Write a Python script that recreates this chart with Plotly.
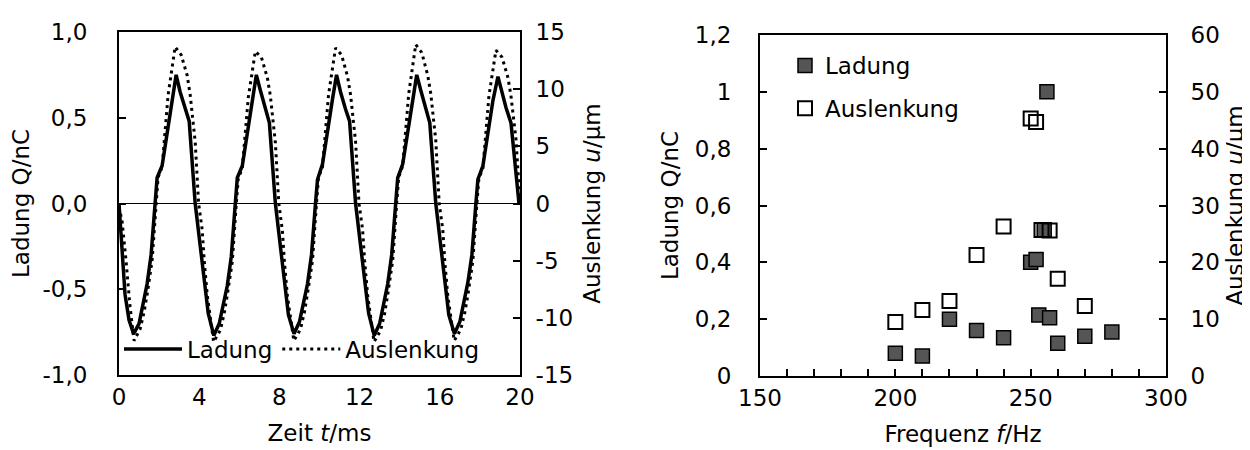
import plotly.graph_objects as go

# ---------------- left chart: time signals ----------------
zeit_ladung = [0.0, 0.15, 0.3, 0.5, 0.73, 1.0, 1.4, 1.6, 1.8, 1.9, 2.15, 2.4, 2.65, 2.85, 3.05, 3.3, 3.5, 3.8, 4.15, 4.45,
               4.73, 5.0, 5.4, 5.6, 5.8, 5.9, 6.15, 6.4, 6.65, 6.85, 7.05, 7.3, 7.5, 7.8, 8.15, 8.45,
               8.73, 9.0, 9.4, 9.6, 9.8, 9.9, 10.15, 10.4, 10.65, 10.85, 11.05, 11.3, 11.5, 11.8, 12.15, 12.45,
               12.73, 13.0, 13.4, 13.6, 13.8, 13.9, 14.15, 14.4, 14.65, 14.85, 15.05, 15.3, 15.5, 15.8, 16.15, 16.45,
               16.73, 17.0, 17.4, 17.6, 17.8, 17.9, 18.15, 18.4, 18.65, 18.9, 19.1, 19.3, 19.55, 19.8, 19.95]
ladung_q = [0.0, -0.28, -0.53, -0.68, -0.76, -0.70, -0.47, -0.30, 0.0, 0.15, 0.22, 0.42, 0.60, 0.75, 0.65, 0.56, 0.48, 0.0, -0.35, -0.64,
            -0.77, -0.70, -0.48, -0.31, 0.0, 0.15, 0.22, 0.42, 0.60, 0.75, 0.66, 0.56, 0.47, 0.0, -0.36, -0.65,
            -0.76, -0.69, -0.47, -0.30, 0.0, 0.14, 0.23, 0.43, 0.61, 0.75, 0.65, 0.55, 0.48, 0.0, -0.35, -0.64,
            -0.77, -0.70, -0.47, -0.30, 0.0, 0.15, 0.23, 0.42, 0.60, 0.75, 0.66, 0.56, 0.47, 0.0, -0.35, -0.65,
            -0.76, -0.69, -0.46, -0.30, 0.0, 0.14, 0.22, 0.42, 0.60, 0.74, 0.64, 0.56, 0.47, 0.15, 0.0]

zeit_auslenkung = [0.0, 0.15, 0.35, 0.55, 0.75, 1.05, 1.25, 1.4, 1.65, 1.85, 1.95, 2.15, 2.3, 2.45, 2.8, 3.1, 3.4, 3.55, 3.8, 3.97, 4.15, 4.25, 4.4,
                   4.72, 5.05, 5.25, 5.4, 5.65, 5.85, 5.95, 6.15, 6.3, 6.45, 6.8, 7.1, 7.4, 7.55, 7.8, 7.97, 8.15, 8.25, 8.4,
                   8.72, 9.05, 9.25, 9.4, 9.65, 9.85, 9.95, 10.15, 10.3, 10.45, 10.8, 11.1, 11.4, 11.55, 11.8, 11.97, 12.15, 12.25, 12.4,
                   12.72, 13.05, 13.25, 13.4, 13.65, 13.85, 13.95, 14.15, 14.3, 14.45, 14.8, 15.1, 15.4, 15.55, 15.8, 15.97, 16.15, 16.25, 16.4,
                   16.72, 17.05, 17.25, 17.4, 17.65, 17.85, 17.95, 18.15, 18.3, 18.45, 18.8, 19.1, 19.4, 19.55, 19.8, 19.9, 20.0]
auslenkung_u = [-0.3, -1.5, -5.0, -9.0, -12.0, -11.0, -9.5, -8.0, -5.0, 0.0, 2.3, 3.2, 6.6, 9.5, 13.7, 13.0, 11.2, 9.5, 5.4, 0.0, -2.3, -5.0, -8.0,
                -12.1, -11.1, -9.6, -8.0, -5.1, 0.0, 2.2, 3.1, 6.4, 9.3, 13.3, 12.8, 11.0, 9.4, 5.3, 0.0, -2.4, -5.1, -8.1,
                -12.0, -11.0, -9.5, -7.9, -5.0, 0.0, 2.3, 3.2, 6.5, 9.5, 13.6, 13.0, 11.1, 9.5, 5.4, 0.0, -2.3, -5.0, -8.0,
                -12.1, -11.1, -9.6, -8.0, -5.0, 0.0, 2.3, 3.3, 6.6, 9.6, 13.9, 13.2, 11.2, 9.6, 5.5, 0.0, -2.3, -5.1, -8.1,
                -12.0, -11.0, -9.5, -8.0, -5.0, 0.0, 2.2, 3.1, 6.4, 9.4, 13.4, 12.8, 11.0, 9.4, 5.6, 3.0, 0.0]

# ---------------- right chart: frequency response ----------------
freq_ladung = [200, 210, 220, 230, 240, 250, 252, 253, 255, 256, 257, 260, 270, 280]
ladung_f = [0.08, 0.07, 0.20, 0.16, 0.135, 0.40, 0.41, 0.215, 0.515, 1.0, 0.205, 0.115, 0.14, 0.155]
freq_auslenkung = [200, 210, 220, 230, 240, 250, 252, 254, 257, 260, 270]
auslenkung_f = [9.5, 11.6, 13.2, 21.3, 26.3, 45.3, 44.7, 25.7, 25.6, 17.1, 12.3]

# ---------------- tick labels ----------------
zeit_ticks = [0, 4, 8, 12, 16, 20]
q_left_vals = [-1.0, -0.5, 0.0, 0.5, 1.0]
q_left_text = ["-1,0", "-0,5", "0,0", "0,5", "1,0"]
u_left_vals = [-15, -10, -5, 0, 5, 10, 15]
u_left_text = ["-15", "-10", "-5", "0", "5", "10", "15"]
freq_ticks = [150, 200, 250, 300]
q_right_vals = [0, 0.2, 0.4, 0.6, 0.8, 1.0, 1.2]
q_right_text = ["0", "0,2", "0,4", "0,6", "0,8", "1", "1,2"]
u_right_vals = [0, 10, 20, 30, 40, 50, 60]
u_right_text = ["0", "10", "20", "30", "40", "50", "60"]

FONT = "DejaVu Sans"
FS = 23
W, H = 1250, 450

fig = go.Figure()

fig.add_trace(go.Scatter(
    x=zeit_auslenkung, y=auslenkung_u, name="Auslenkung", mode="lines",
    line=dict(color="black", width=3, dash="3px,4px"),
    xaxis="x", yaxis="y2", legend="legend", legendrank=2))
fig.add_trace(go.Scatter(
    x=zeit_ladung, y=ladung_q, name="Ladung", mode="lines",
    line=dict(color="black", width=3.5),
    xaxis="x", yaxis="y", legend="legend", legendrank=1))

fig.add_trace(go.Scatter(
    x=freq_ladung, y=ladung_f, name="Ladung", mode="markers",
    marker=dict(symbol="square", size=14, color="#555555", line=dict(color="black", width=1.5)),
    xaxis="x2", yaxis="y3", legend="legend2", legendgroup="a", legendrank=1))
fig.add_trace(go.Scatter(
    x=freq_auslenkung, y=auslenkung_f, name="Auslenkung", mode="markers",
    marker=dict(symbol="square-open", size=14, color="black", line=dict(color="black", width=2)),
    xaxis="x2", yaxis="y4", legend="legend2", legendgroup="b", legendrank=2))

axis_common = dict(showgrid=False, showline=True, linecolor="black", linewidth=2,
                   tickfont=dict(family=FONT, size=FS, color="black"),
                   title_font=dict(family=FONT, size=FS, color="black"),
                   tickcolor="black", tickwidth=2, ticklen=7)

lx0, lx1 = 111 / W, 512 / W
ly0, ly1 = 1 - 367 / H, 1 - 24 / H
rx0, rx1 = 752 / W, 1158 / W
ry0, ry1 = 1 - 368 / H, 1 - 27 / H

fig.update_layout(
    width=W, height=H,
    margin=dict(l=0, r=0, t=0, b=0, autoexpand=False),
    paper_bgcolor="white", plot_bgcolor="white",
    font=dict(family=FONT, size=FS, color="black"),
    xaxis=dict(axis_common, domain=[lx0, lx1], anchor="y", range=[0, 20],
               tickmode="array", tickvals=zeit_ticks, ticks="", mirror=True, zeroline=False,
               ticklabelstandoff=0,
               title=dict(text="Zeit <i>t</i>/ms", standoff=16)),
    yaxis=dict(axis_common, domain=[ly0, ly1], anchor="x", range=[-1, 1],
               tickmode="array", tickvals=q_left_vals, ticktext=q_left_text, ticks="inside",
               zeroline=True, zerolinecolor="black", zerolinewidth=1.3, ticklabelstandoff=25,
               title=dict(text="Ladung Q/nC", standoff=6)),
    yaxis2=dict(axis_common, overlaying="y", side="right", anchor="x", range=[-15, 15],
                tickmode="array", tickvals=u_left_vals, ticktext=u_left_text, ticks="inside",
                zeroline=False, ticklabelstandoff=9,
                title=dict(text="Auslenkung <i>u</i>/µm", standoff=12)),
    xaxis2=dict(axis_common, domain=[rx0, rx1], anchor="y3", range=[150, 300],
                tickmode="linear", tick0=150, dtick=50, ticks="inside", mirror=True, zeroline=False,
                minor=dict(dtick=10, tick0=150, ticks="inside", ticklen=7, tickwidth=1.5, tickcolor="black"),
                ticklabelstandoff=0,
                title=dict(text="Frequenz <i>f</i>/Hz", standoff=16)),
    yaxis3=dict(axis_common, domain=[ry0, ry1], anchor="x2", range=[0, 1.2],
                tickmode="array", tickvals=q_right_vals, ticktext=q_right_text, ticks="inside",
                zeroline=False, ticklabelstandoff=22,
                title=dict(text="Ladung Q/nC", standoff=10)),
    yaxis4=dict(axis_common, overlaying="y3", side="right", anchor="x2", range=[0, 60],
                tickmode="array", tickvals=u_right_vals, ticktext=u_right_text, ticks="inside",
                zeroline=False, ticklabelstandoff=18,
                title=dict(text="Auslenkung <i>u</i>/µm", standoff=8)),
    legend=dict(orientation="h", x=111 / W, xanchor="left", y=1 - 341 / H, yanchor="middle",
                bgcolor="rgba(255,255,255,0)", borderwidth=0,
                font=dict(family=FONT, size=FS, color="black"), itemwidth=58),
    legend2=dict(orientation="v", x=777 / W, xanchor="left", y=1 - 36 / H, yanchor="top",
                 bgcolor="rgba(255,255,255,0)", borderwidth=0, tracegroupgap=10,
                 font=dict(family=FONT, size=FS, color="black"), itemwidth=30),
    showlegend=True,
)

fig.write_html("out.html")
